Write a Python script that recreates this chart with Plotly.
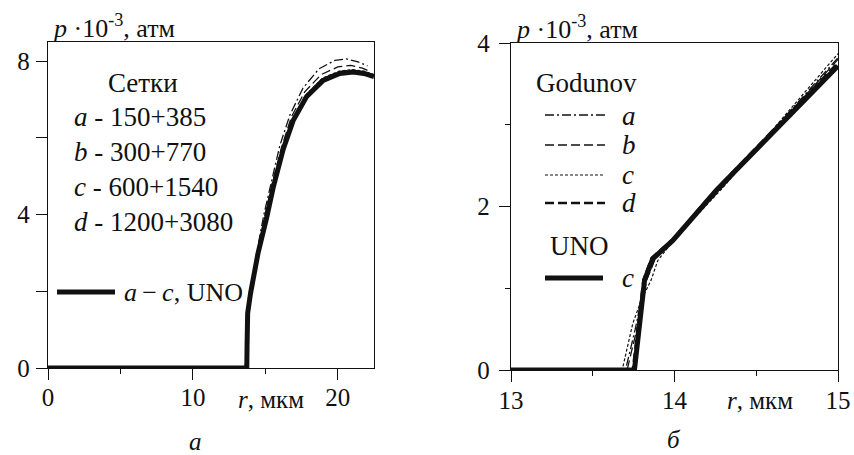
import plotly.graph_objects as go

W, H = 854, 455

# ---------------- data: left panel (a) ----------------
L_uno_r = [0, 13.72, 13.74, 13.78, 13.98, 14.5, 15.08, 15.54, 16.23, 16.92, 17.84, 18.99, 20.14, 21.06, 21.8, 22.5]
L_uno_p = [0, 0, 0.6, 1.43, 1.95, 3.0, 3.9, 4.7, 5.7, 6.45, 7.07, 7.5, 7.68, 7.72, 7.68, 7.6]

L_a_r = [0, 13.6, 13.7, 13.8, 14.0, 14.4, 14.9, 15.4, 16.0, 16.7, 17.6, 18.7, 19.8, 20.6, 21.4, 22.05]
L_a_p = [0, 0, 0.4, 1.2, 2.0, 3.0, 4.0, 4.85, 5.8, 6.6, 7.3, 7.8, 8.02, 8.06, 7.98, 7.88]

L_b_r = [0, 13.65, 13.72, 13.8, 14.0, 14.45, 14.98, 15.47, 16.12, 16.8, 17.72, 18.85, 20.0, 20.9, 21.7, 22.3]
L_b_p = [0, 0, 0.5, 1.3, 1.98, 3.0, 4.0, 4.8, 5.75, 6.55, 7.2, 7.65, 7.85, 7.89, 7.82, 7.72]

L_c_r = [0, 13.68, 13.74, 13.8, 14.0, 14.48, 15.05, 15.52, 16.2, 16.9, 17.8, 18.95, 20.1, 21.0, 21.8, 22.5]
L_c_p = [0, 0, 0.5, 1.35, 1.97, 3.0, 3.95, 4.75, 5.72, 6.5, 7.12, 7.56, 7.74, 7.78, 7.74, 7.65]

L_d_r = [0, 13.7, 13.74, 13.79, 13.99, 14.49, 15.07, 15.53, 16.22, 16.91, 17.82, 18.97, 20.12, 21.03, 21.8, 22.5]
L_d_p = [0, 0, 0.55, 1.4, 1.96, 3.0, 3.92, 4.72, 5.71, 6.47, 7.09, 7.53, 7.71, 7.75, 7.71, 7.62]

# ---------------- data: right panel (б) ----------------
R_uno_r = [13, 13.755, 13.817, 13.867, 13.99, 14.255, 15]
R_uno_p = [0, 0, 1.10, 1.36, 1.585, 2.195, 3.72]

R_a_r = [13, 13.70, 13.76, 13.82, 13.88, 14.0, 14.3, 15]
R_a_p = [0, 0, 0.5, 1.1, 1.4, 1.62, 2.26, 3.82]

R_b_r = [13, 13.71, 13.77, 13.83, 13.89, 14.0, 14.3, 15]
R_b_p = [0, 0, 0.5, 1.1, 1.4, 1.61, 2.25, 3.80]

R_c_r = [13, 13.68, 13.745, 13.796, 13.857, 13.898, 13.96, 14.0, 14.3, 15]
R_c_p = [0, 0, 0.57, 0.85, 1.10, 1.34, 1.50, 1.6, 2.24, 3.87]

R_d_r = [13, 13.745, 13.81, 13.86, 13.99, 14.25, 15]
R_d_p = [0, 0, 1.1, 1.37, 1.6, 2.2, 3.76]

L_xticks = [0, 10, 20]
L_yticks = [0, 4, 8]
R_xticks = [13, 14, 15]
R_yticks = [0, 2, 4]

grid_labels = ["<i>a</i> - 150+385", "<i>b</i> - 300+770", "<i>c</i> - 600+1540", "<i>d</i> - 1200+3080"]
god_labels = ["<i>a</i>", "<i>b</i>", "<i>c</i>", "<i>d</i>"]

FONT = "'Liberation Serif', 'Times New Roman', Tinos, 'DejaVu Serif', serif"
BLACK = "#111111"

STY = {
    "a": dict(width=1.3, dash="9px,3px,2px,3px"),
    "b": dict(width=1.3, dash="9px,4px"),
    "c": dict(width=1.2, dash="3px,2px"),
    "d": dict(width=2.6, dash="9px,4px"),
    "uno": dict(width=5),
}

fig = go.Figure()


def add(x, y, sty, xa, ya):
    fig.add_trace(go.Scatter(x=x, y=y, mode="lines", xaxis=xa, yaxis=ya,
                             line=dict(color=BLACK, **sty), showlegend=False,
                             hoverinfo="skip"))


for (x, y, k) in [(L_a_r, L_a_p, "a"), (L_b_r, L_b_p, "b"), (L_c_r, L_c_p, "c"),
                  (L_d_r, L_d_p, "d"), (L_uno_r, L_uno_p, "uno")]:
    add(x, y, STY[k], "x", "y")
for (x, y, k) in [(R_a_r, R_a_p, "a"), (R_b_r, R_b_p, "b"), (R_c_r, R_c_p, "c"),
                  (R_d_r, R_d_p, "d"), (R_uno_r, R_uno_p, "uno")]:
    add(x, y, STY[k], "x2", "y2")


def px(x):
    return x / W


def py(y):
    return 1 - y / H


axis_common = dict(showline=True, linecolor=BLACK, linewidth=1.3, mirror=True,
                   ticks="outside", tickcolor=BLACK, tickwidth=1.3, showgrid=False,
                   zeroline=False, automargin=False,
                   tickfont=dict(family=FONT, size=25, color=BLACK))

fig.update_layout(
    width=W, height=H, margin=dict(l=0, r=0, t=0, b=0, pad=0),
    paper_bgcolor="white", plot_bgcolor="white",
    font=dict(family=FONT, color=BLACK),
    xaxis=dict(domain=[px(48), px(374)], range=[0, 22.5], anchor="y",
               tickvals=L_xticks, ticklen=11, ticklabelstandoff=-4,
               minor=dict(tickvals=[5, 15], ticklen=5, ticks="outside", tickcolor=BLACK, tickwidth=1.3),
               **axis_common),
    yaxis=dict(domain=[py(368), py(42)], range=[0, 8.5], anchor="x",
               tickvals=L_yticks, ticklen=11, ticklabelstandoff=1,
               minor=dict(tickvals=[2, 6], ticklen=11, ticks="outside", tickcolor=BLACK, tickwidth=1.3),
               **axis_common),
    xaxis2=dict(domain=[px(511), px(838)], range=[13, 15], anchor="y2",
                tickvals=R_xticks, ticklen=11, ticklabelstandoff=-3,
                minor=dict(tickvals=[13.5, 14.5], ticklen=5, ticks="outside", tickcolor=BLACK, tickwidth=1.3),
                **axis_common),
    yaxis2=dict(domain=[py(370), py(43)], range=[0, 4], anchor="x2",
                tickvals=R_yticks, ticklen=11, ticklabelstandoff=4,
                minor=dict(tickvals=[1, 3], ticklen=5, ticks="outside", tickcolor=BLACK, tickwidth=1.3),
                **axis_common),
)

ann = []


def text(x, y, s, size=25, xanchor="left"):
    ann.append(dict(x=px(x), y=py(y), xref="paper", yref="paper", text=s, showarrow=False,
                    xanchor=xanchor, yanchor="middle",
                    font=dict(family=FONT, size=size, color=BLACK)))


ylab = "<i>p</i> ·10<sup>-3</sup>, атм"
text(50, 26, ylab, size=26)
text(513, 27, ylab, size=26)
text(236, 399, "<i>r</i>, мкм")
text(725, 400, "<i>r</i>, мкм")
text(195, 441, "<i>a</i>", xanchor="center")
text(674, 439, "<i>б</i>", xanchor="center")

# left legend
text(106, 83, "Сетки", size=27)
for i, s in enumerate(grid_labels):
    text(72, 117 + 35 * i, s, size=27)
text(122, 292, "<i>a</i>\u2009\u2212\u2009<i>c</i>, UNO", size=26)

# right legend
text(534, 83, "Godunov", size=27)
for i, (s, yy) in enumerate(zip(god_labels, [116, 145, 175, 203])):
    text(620, yy, s, size=27)
text(548, 246, "UNO", size=27)
text(620, 278, "<i>c</i>", size=27)

shapes = []


def seg(x0, x1, y, sty):
    shapes.append(dict(type="line", xref="paper", yref="paper", x0=px(x0), x1=px(x1),
                       y0=py(y), y1=py(y), line=dict(color=BLACK, **sty)))


seg(57, 115, 292, STY["uno"])
for k, yy in zip(["a", "b", "c", "d"], [115, 145, 175, 203]):
    seg(545, 605, yy, STY[k])
seg(545, 603, 278, STY["uno"])

fig.update_layout(annotations=ann, shapes=shapes)

fig.write_html("out.html")
